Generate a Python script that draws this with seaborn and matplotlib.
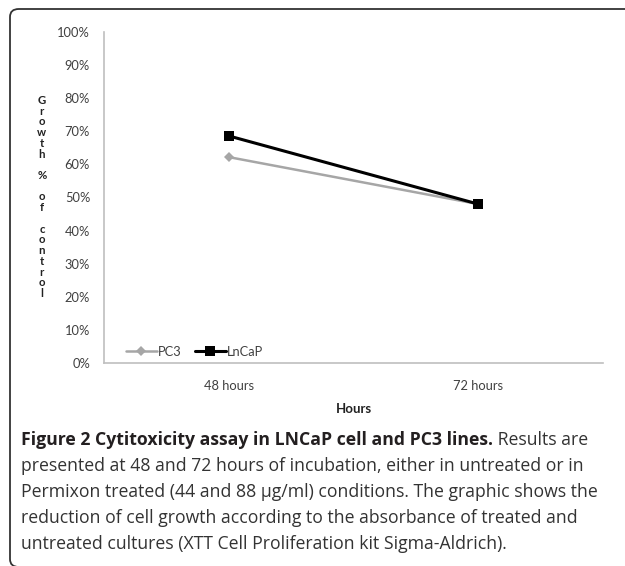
import pandas as pd
import matplotlib
matplotlib.use('Agg')
import matplotlib.pyplot as plt
import seaborn as sns
from matplotlib.patches import FancyBboxPatch
from matplotlib.ticker import FuncFormatter

# data (% of control)
hours = ['48 hours', '72 hours']
pc3 = [62.2, 48.0]
lncap = [68.6, 48.0]
y_ticks = list(range(0, 101, 10))

df = pd.DataFrame({'Hours': hours + hours,
                   'growth': pc3 + lncap,
                   'line': ['PC3'] * len(hours) + ['LnCaP'] * len(hours)})

sns.set_style('white')
plt.rcParams['font.family'] = ['Lato', 'DejaVu Sans']

fig = plt.figure(figsize=(6.25, 5.66), dpi=100)
ax = fig.add_axes([0.1664, 0.3587, 0.7984, 0.5848])

# the two cell lines, gray diamonds and black squares
sns.lineplot(data=df[df['line'] == 'PC3'], x='Hours', y='growth', ax=ax,
             color='#a6a6a6', marker='D', markersize=5.5, linewidth=1.8,
             markeredgewidth=0, label='PC3')
sns.lineplot(data=df[df['line'] == 'LnCaP'], x='Hours', y='growth', ax=ax,
             color='black', marker='s', markersize=7.5, linewidth=2.2,
             markeredgewidth=0, label='LnCaP')

ax.set_xlim(-0.5, 1.5)
ax.set_ylim(0, 100)
ax.set_yticks(y_ticks)
ax.yaxis.set_major_formatter(FuncFormatter(lambda v, p: '%d%%' % v))
ax.tick_params(axis='both', length=0, labelsize=9.3, labelcolor='#404040')
ax.tick_params(axis='y', pad=10)
ax.tick_params(axis='x', pad=12)
for s in ['top', 'right']:
    ax.spines[s].set_visible(False)
for s in ['left', 'bottom']:
    ax.spines[s].set_color('#bfbfbf')
    ax.spines[s].set_linewidth(1.2)

ax.set_xlabel('Hours', fontsize=9.5, fontweight='bold', color='#222222', labelpad=8)
ax.set_ylabel('')

# stacked vertical y label like the original
fig.text(0.067, 0.652, '\n'.join(list('Growth % of control')), fontsize=8.2,
         fontweight='bold', ha='center', va='center', linespacing=0.97,
         color='#222222')

ax.legend(loc='lower left', bbox_to_anchor=(0.02, -0.02), ncol=2, frameon=False,
          fontsize=9.3, handlelength=2.4, handletextpad=0.1, columnspacing=1.0,
          labelcolor='#404040')

# rounded frame, only top and left edges visible (runs off the right side)
frame = FancyBboxPatch((10 / 625, -1 / 566), 1.5, 1 - 8 / 566,
                       boxstyle='round,pad=0,rounding_size=0.014',
                       transform=fig.transFigure, fill=False,
                       edgecolor='#333333', linewidth=1.3)
fig.patches.append(frame)

# caption
plt.rcParams['font.family'] = ['Open Sans', 'DejaVu Sans']
cap_x = 21 / 625
line_y = [440, 466, 492, 518, 544]
cap_size = 12.7
bold_part = 'Figure 2 Cytitoxicity assay in LNCaP cell and PC3 lines.'
t = fig.text(cap_x, 1 - line_y[0] / 566, bold_part, fontsize=cap_size,
             fontweight='bold', va='center', color='#231f20')
fig.canvas.draw()
bb = t.get_window_extent(renderer=fig.canvas.get_renderer())
fig.text(bb.x1 / fig.bbox.width, 1 - line_y[0] / 566, ' Results are',
         fontsize=cap_size, va='center', color='#333333')
rest = ['presented at 48 and 72 hours of incubation, either in untreated or in',
        'Permixon treated (44 and 88 \u00b5g/ml) conditions. The graphic shows the',
        'reduction of cell growth according to the absorbance of treated and',
        'untreated cultures (XTT Cell Proliferation kit Sigma-Aldrich).']
for yy, s in zip(line_y[1:], rest):
    fig.text(cap_x, 1 - yy / 566, s, fontsize=cap_size, va='center', color='#333333')

fig.savefig('out.png', dpi=100)
